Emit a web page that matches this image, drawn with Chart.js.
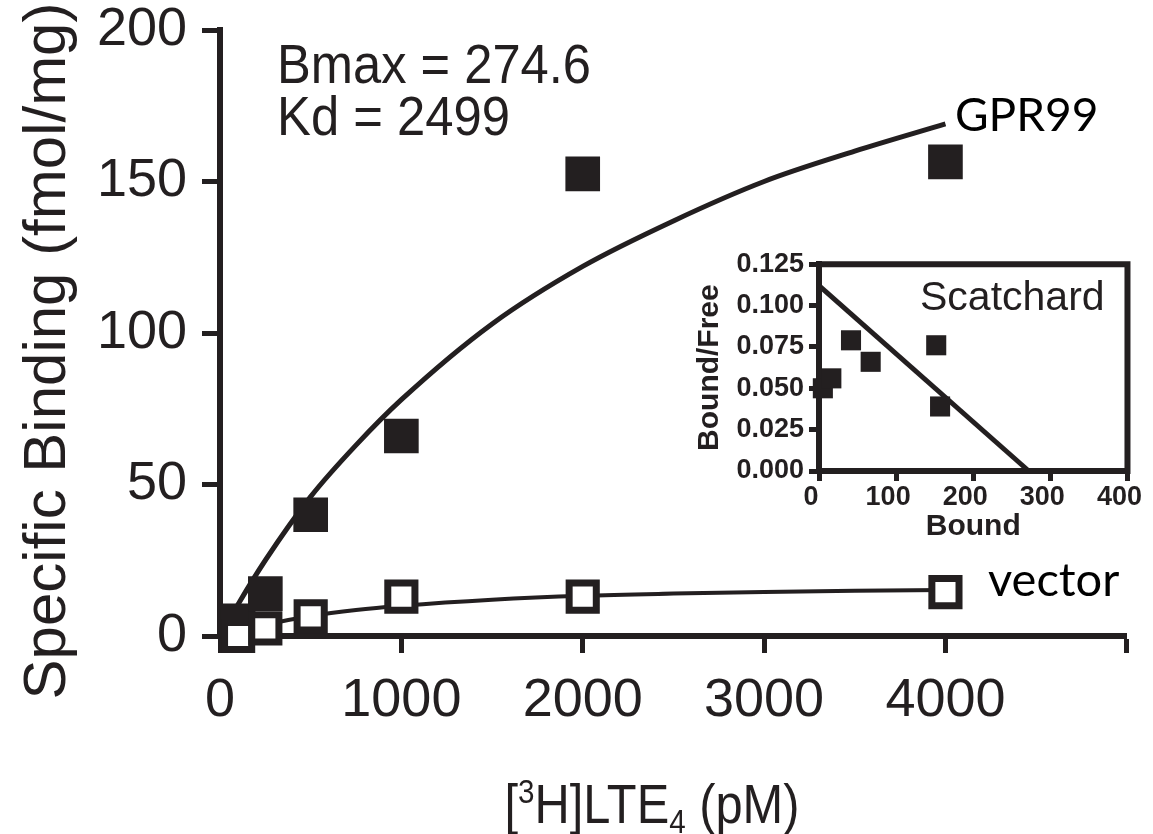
<!DOCTYPE html>
<html><head><meta charset="utf-8">
<script src="https://cdn.jsdelivr.net/npm/chart.js@4/dist/chart.umd.min.js"></script>
<style>
html,body{margin:0;padding:0;background:#fff;overflow:hidden;}
#wrap{position:relative;width:1153px;height:834px;overflow:hidden;background:#fff;}
#main{position:absolute;left:0;top:0;}
#inset{position:absolute;left:680px;top:250px;}
</style></head><body>
<div id="wrap"><canvas id="main" width="1153" height="834"></canvas><canvas id="inset" width="473" height="300"></canvas></div>
<script>
const INK = '#231f20';
const FAM = "'Liberation Sans', Arial, Helvetica, sans-serif";

// ---- main saturation binding plot ----
const gpr99Conc = [100, 250, 500, 1000, 2000, 4000];
const gpr99Binding = [5, 14, 40, 66, 152.5, 156.5];
const vectorConc = [100, 250, 500, 1000, 2000, 4000];
const vectorBinding = [0, 2.5, 6.5, 13, 13, 14.5];
const gpr99FitX = [0, 100, 250, 500, 750, 1000, 1500, 2000, 2500, 3000, 3500, 4000];
const gpr99FitY = [0, 10.5, 25, 46, 63, 78, 103, 122, 137, 150, 160, 169];
const vectorFitX = [0, 250, 500, 750, 1000, 1500, 2000, 2500, 3000, 3500, 4000];
const vectorFitY = [0, 3.7, 6.6, 8.6, 10, 12, 13.3, 14, 14.5, 14.9, 15.2];
const xTicks = [0, 1000, 2000, 3000, 4000, 5000];
const xTickLabels = ['0', '1000', '2000', '3000', '4000', ''];
const yTicks = [0, 50, 100, 150, 200];
const yTickLabels = ['0', '50', '100', '150', '200'];

// ---- Scatchard inset ----
const scatBound = [5, 16, 41.5, 67, 152, 157];
const scatRatio = [0.050, 0.056, 0.079, 0.066, 0.076, 0.039];
const scatLineX = [0, 272];
const scatLineY = [0.112, 0];
const insetXTicks = [0, 100, 200, 300, 400];
const insetXTickLabels = ['0', '100', '200', '300', '400'];
const insetYTicks = [0, 0.025, 0.05, 0.075, 0.1, 0.125];
const insetYTickLabels = ['0.000', '0.025', '0.050', '0.075', '0.100', '0.125'];

const pts = (xs, ys) => xs.map((x, i) => ({x: x, y: ys[i]}));

function fitText(ctx, text, x, y, size, targetW, family) {
  ctx.font = size + 'px ' + family;
  const w = ctx.measureText(text).width;
  const sx = targetW ? targetW / w : 1;
  ctx.save();
  ctx.translate(x, y);
  ctx.scale(sx, 1);
  ctx.fillText(text, 0, 0);
  ctx.restore();
}

const mainText = {
  id: 'mainText',
  afterDraw(chart) {
    const ctx = chart.ctx;
    ctx.save();
    ctx.fillStyle = INK;
    ctx.textAlign = 'left';
    ctx.textBaseline = 'alphabetic';
    fitText(ctx, 'Bmax = 274.6', 277, 83, 55, 314, FAM);
    fitText(ctx, 'Kd = 2499', 277, 135, 55, 233, FAM);
    ctx.fillStyle = '#000';
    fitText(ctx, 'GPR99', 955, 131, 46, 0, 'Lato, sans-serif');
    fitText(ctx, 'vector', 988, 596, 47, 0, 'Lato, sans-serif');
    // y axis title
    ctx.fillStyle = INK;
    ctx.save();
    ctx.translate(48, 351);
    ctx.rotate(-Math.PI / 2);
    ctx.textAlign = 'center';
    ctx.textBaseline = 'middle';
    ctx.font = '60px ' + FAM;
    ctx.fillText('Specific Binding (fmol/mg)', 0, 0);
    ctx.restore();
    // x axis title with super/subscript
    const base = 56;
    const pieces = [
      {t: '[', s: 1, dy: 0},
      {t: '3', s: 0.6, dy: -20},
      {t: 'H]LTE', s: 1, dy: 0},
      {t: '4', s: 0.6, dy: 10},
      {t: ' (pM)', s: 1, dy: 0}
    ];
    let W = 0;
    pieces.forEach(p => { ctx.font = Math.round(base * p.s) + 'px ' + FAM; p.w = ctx.measureText(p.t).width; W += p.w; });
    const target = 295;
    const sx = target / W;
    ctx.save();
    ctx.translate(652 - target / 2, 823);
    ctx.scale(sx, 1);
    let cx = 0;
    pieces.forEach(p => { ctx.font = Math.round(base * p.s) + 'px ' + FAM; ctx.fillText(p.t, cx, p.dy); cx += p.w; });
    ctx.restore();
    ctx.restore();
  }
};

new Chart(document.getElementById('main'), {
  type: 'scatter',
  data: {
    datasets: [
      {label: 'vector', data: pts(vectorConc, vectorBinding), pointStyle: 'rect', pointRadius: 19.2, pointBorderWidth: 7, borderWidth: 7,
       borderColor: INK, backgroundColor: '#ffffff', pointBackgroundColor: '#ffffff', showLine: false, clip: false},
      {label: 'GPR99', data: pts(gpr99Conc, gpr99Binding), pointStyle: 'rect', pointRadius: 24.5, borderWidth: 0, pointBorderWidth: 0,
       backgroundColor: INK, pointBackgroundColor: INK, showLine: false, clip: false},
      {label: 'GPR99 fit', data: pts(gpr99FitX, gpr99FitY), showLine: true, pointRadius: 0, borderColor: INK, borderWidth: 5,
       cubicInterpolationMode: 'monotone', fill: false, clip: false},
      {label: 'vector fit', data: pts(vectorFitX, vectorFitY), showLine: true, pointRadius: 0, borderColor: INK, borderWidth: 4,
       cubicInterpolationMode: 'monotone', fill: false, clip: false}
    ]
  },
  options: {
    responsive: false, animation: false, devicePixelRatio: 1,
    layout: {padding: {left: 14, right: 23, top: 30, bottom: 0}},
    plugins: {legend: {display: false}, tooltip: {enabled: false}},
    scales: {
      x: {
        type: 'linear', min: 0, max: 5000,
        afterBuildTicks: s => { s.ticks = xTicks.map(v => ({value: v})); },
        ticks: {callback: (v, i) => xTickLabels[xTicks.indexOf(v)], font: {family: FAM, size: 54, lineHeight: 1}, color: INK,
                padding: 21, maxRotation: 0, minRotation: 0, autoSkip: false},
        grid: {drawOnChartArea: false, drawTicks: true, tickLength: 17, tickWidth: 5, tickColor: INK},
        border: {display: true, width: 6, color: INK},
        afterFit: s => { s.height = 198; }
      },
      y: {
        type: 'linear', min: 0, max: 200,
        afterBuildTicks: s => { s.ticks = yTicks.map(v => ({value: v})); },
        ticks: {callback: v => yTickLabels[yTicks.indexOf(v)], font: {family: FAM, size: 54, lineHeight: 0.4}, color: INK, padding: 15, autoSkip: false},
        grid: {drawOnChartArea: false, drawTicks: true, tickLength: 18, tickWidth: 5, tickColor: INK},
        border: {display: true, width: 6, color: INK},
        afterFit: s => { s.width = 206; }
      }
    }
  },
  plugins: [mainText]
});

const insetBox = {
  id: 'insetBox',
  afterDraw(chart) {
    const ctx = chart.ctx, a = chart.chartArea;
    ctx.save();
    ctx.strokeStyle = INK;
    ctx.lineWidth = 6;
    ctx.lineCap = 'square';
    ctx.beginPath();
    ctx.moveTo(a.left, a.top);
    ctx.lineTo(a.right, a.top);
    ctx.lineTo(a.right, a.bottom);
    ctx.stroke();
    ctx.fillStyle = INK;
    ctx.textAlign = 'left';
    ctx.textBaseline = 'alphabetic';
    ctx.font = '41px ' + FAM;
    ctx.fillText('Scatchard', 240, 60);
    ctx.restore();
  }
};

new Chart(document.getElementById('inset'), {
  type: 'scatter',
  data: {
    datasets: [
      {label: 'Scatchard points', data: pts(scatBound, scatRatio), pointStyle: 'rect', pointRadius: 14.2, borderWidth: 0, pointBorderWidth: 0,
       backgroundColor: INK, pointBackgroundColor: INK, showLine: false, clip: false},
      {label: 'Scatchard fit', data: pts(scatLineX, scatLineY), showLine: true, pointRadius: 0, borderColor: INK, borderWidth: 5, fill: false, clip: false}
    ]
  },
  options: {
    responsive: false, animation: false, devicePixelRatio: 1,
    layout: {padding: {left: 12, right: 20, top: 14, bottom: 0}},
    plugins: {legend: {display: false}, tooltip: {enabled: false}},
    scales: {
      x: {
        type: 'linear', min: 0, max: 400,
        afterBuildTicks: s => { s.ticks = insetXTicks.map(v => ({value: v})); },
        ticks: {callback: v => insetXTickLabels[insetXTicks.indexOf(v)], font: {family: FAM, size: 27, weight: 'bold', lineHeight: 1}, color: INK,
                padding: 3, labelOffset: -8, maxRotation: 0, minRotation: 0, autoSkip: false},
        grid: {drawOnChartArea: false, drawTicks: true, tickLength: 10, tickWidth: 5, tickColor: INK},
        border: {display: true, width: 6, color: INK},
        title: {display: true, text: 'Bound', color: INK, font: {family: FAM, size: 30, weight: 'bold', lineHeight: 1.2}, padding: {top: 0, bottom: 5}},
        afterFit: s => { s.height = 79; }
      },
      y: {
        type: 'linear', min: 0, max: 0.125,
        afterBuildTicks: s => { s.ticks = insetYTicks.map(v => ({value: v})); },
        ticks: {callback: (v, i) => insetYTickLabels[i], font: {family: FAM, size: 27, weight: 'bold', lineHeight: 0.3}, color: INK, padding: 5, autoSkip: false},
        grid: {drawOnChartArea: false, drawTicks: true, tickLength: 10, tickWidth: 5, tickColor: INK},
        border: {display: true, width: 6, color: INK},
        title: {display: true, text: 'Bound/Free', color: INK, font: {family: FAM, size: 30, weight: 'bold', lineHeight: 1.2}, padding: {top: 0, bottom: 0}},
        afterFit: s => { s.width = 127; }
      }
    }
  },
  plugins: [insetBox]
});
</script>
</body></html>
